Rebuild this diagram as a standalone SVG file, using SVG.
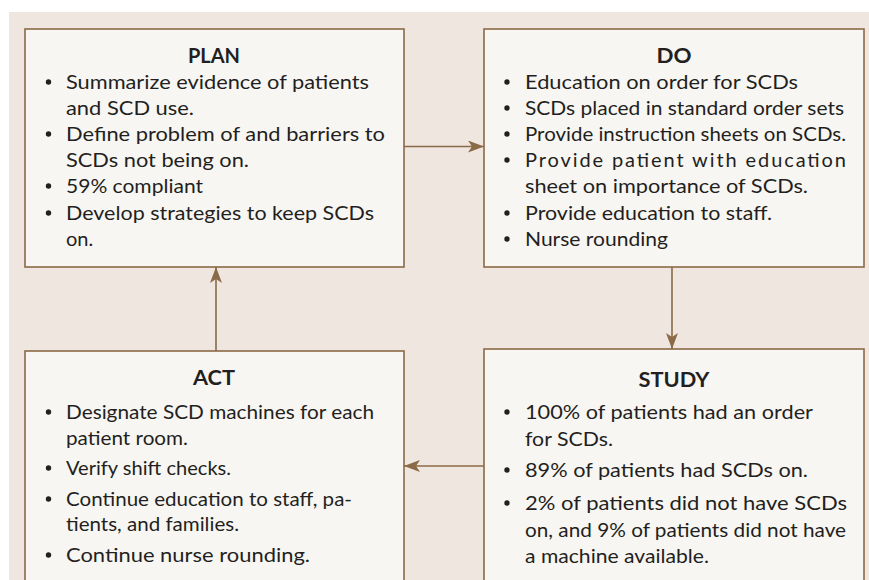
<svg xmlns="http://www.w3.org/2000/svg" width="869" height="580" viewBox="0 0 869 580">
<defs>
<style>
.box{fill:#f8f6f3;stroke:#8b6a47;stroke-width:1.6}
.t{font-family:Lato,"Open Sans","Liberation Sans",sans-serif;fill:#231f20}
.h{font-size:20px;font-weight:bold;text-anchor:middle}
.b{font-size:20px}
.dot{fill:#231f20}
.c{stroke:#8b6a47;stroke-width:1.6;fill:none}
</style>
<marker id="ah" viewBox="0 0 16 12" refX="16" refY="6" markerWidth="16" markerHeight="12" markerUnits="userSpaceOnUse" orient="auto">
<path d="M0,0 L16,6 L0,12 L4,6 Z" fill="#8b6a47"/>
</marker>
</defs>
<rect x="0" y="0" width="869" height="580" fill="#ffffff"/>
<rect x="9" y="12" width="860" height="568" fill="#efe6e0"/>
<g id="connectors">
<line class="c" x1="404" y1="146.5" x2="484" y2="146.5" marker-end="url(#ah)"/>
<line class="c" x1="672" y1="267" x2="672" y2="349" marker-end="url(#ah)"/>
<line class="c" x1="484" y1="466" x2="404" y2="466" marker-end="url(#ah)"/>
<line class="c" x1="216" y1="351" x2="216" y2="267" marker-end="url(#ah)"/>
</g>
<g id="plan">
<rect class="box" x="25" y="29" width="379" height="238"/>
<text class="t h" x="214" y="63" textLength="52" lengthAdjust="spacingAndGlyphs">PLAN</text>
<g class="t b">
<text x="66" y="89" textLength="303" lengthAdjust="spacingAndGlyphs">Summarize evidence of patients</text>
<text x="66" y="115" textLength="128" lengthAdjust="spacingAndGlyphs">and SCD use.</text>
<text x="66" y="141" textLength="319" lengthAdjust="spacingAndGlyphs">Define problem of and barriers to</text>
<text x="66" y="167" textLength="183" lengthAdjust="spacingAndGlyphs">SCDs not being on.</text>
<text x="66" y="193" textLength="137" lengthAdjust="spacingAndGlyphs">59% compliant</text>
<text x="66" y="220" textLength="308" lengthAdjust="spacingAndGlyphs">Develop strategies to keep SCDs</text>
<text x="66" y="246">on.</text>
</g>
<circle class="dot" cx="48.5" cy="82" r="2.7"/>
<circle class="dot" cx="48.5" cy="134" r="2.7"/>
<circle class="dot" cx="48.5" cy="186" r="2.7"/>
<circle class="dot" cx="48.5" cy="213" r="2.7"/>
</g>
<g id="do">
<rect class="box" x="484" y="29" width="380" height="238"/>
<text class="t h" x="674" y="63" textLength="35" lengthAdjust="spacingAndGlyphs">DO</text>
<g class="t b">
<text x="525" y="89" textLength="273" lengthAdjust="spacingAndGlyphs">Education on order for SCDs</text>
<text x="525" y="115" textLength="319" lengthAdjust="spacingAndGlyphs">SCDs placed in standard order sets</text>
<text x="525" y="141" textLength="321" lengthAdjust="spacingAndGlyphs">Provide instruction sheets on SCDs.</text>
<text x="525" y="167" textLength="321" lengthAdjust="spacing">Provide patient with education</text>
<text x="525" y="193" textLength="283" lengthAdjust="spacingAndGlyphs">sheet on importance of SCDs.</text>
<text x="525" y="220" textLength="247" lengthAdjust="spacingAndGlyphs">Provide education to staff.</text>
<text x="525" y="246" textLength="143" lengthAdjust="spacingAndGlyphs">Nurse rounding</text>
</g>
<circle class="dot" cx="507" cy="82" r="2.7"/>
<circle class="dot" cx="507" cy="108" r="2.7"/>
<circle class="dot" cx="507" cy="134" r="2.7"/>
<circle class="dot" cx="507" cy="160" r="2.7"/>
<circle class="dot" cx="507" cy="213" r="2.7"/>
<circle class="dot" cx="507" cy="239" r="2.7"/>
</g>
<g id="act">
<rect class="box" x="25" y="351" width="379" height="240"/>
<text class="t h" x="214" y="385" textLength="42" lengthAdjust="spacingAndGlyphs">ACT</text>
<g class="t b">
<text x="66" y="419" textLength="308" lengthAdjust="spacingAndGlyphs">Designate SCD machines for each</text>
<text x="66" y="445" textLength="122" lengthAdjust="spacingAndGlyphs">patient room.</text>
<text x="66" y="475" textLength="165" lengthAdjust="spacingAndGlyphs">Verify shift checks.</text>
<text x="66" y="506" textLength="286" lengthAdjust="spacingAndGlyphs">Continue education to staff, pa-</text>
<text x="66" y="531" textLength="173" lengthAdjust="spacingAndGlyphs">tients, and families.</text>
<text x="66" y="562" textLength="244" lengthAdjust="spacingAndGlyphs">Continue nurse rounding.</text>
</g>
<circle class="dot" cx="48.5" cy="412" r="2.7"/>
<circle class="dot" cx="48.5" cy="468" r="2.7"/>
<circle class="dot" cx="48.5" cy="499" r="2.7"/>
<circle class="dot" cx="48.5" cy="555" r="2.7"/>
</g>
<g id="study">
<rect class="box" x="484" y="349" width="380" height="242"/>
<text class="t h" x="674" y="387" textLength="71" lengthAdjust="spacingAndGlyphs">STUDY</text>
<g class="t b">
<text x="525" y="419" textLength="288" lengthAdjust="spacingAndGlyphs">100% of patients had an order</text>
<text x="525" y="446" textLength="88" lengthAdjust="spacingAndGlyphs">for SCDs.</text>
<text x="525" y="477" textLength="283" lengthAdjust="spacingAndGlyphs">89% of patients had SCDs on.</text>
<text x="525" y="510" textLength="322" lengthAdjust="spacingAndGlyphs">2% of patients did not have SCDs</text>
<text x="525" y="537" textLength="321" lengthAdjust="spacingAndGlyphs">on, and 9% of patients did not have</text>
<text x="525" y="563" textLength="184" lengthAdjust="spacingAndGlyphs">a machine available.</text>
</g>
<circle class="dot" cx="507" cy="412" r="2.7"/>
<circle class="dot" cx="507" cy="470" r="2.7"/>
<circle class="dot" cx="507" cy="503" r="2.7"/>
</g>
</svg>
